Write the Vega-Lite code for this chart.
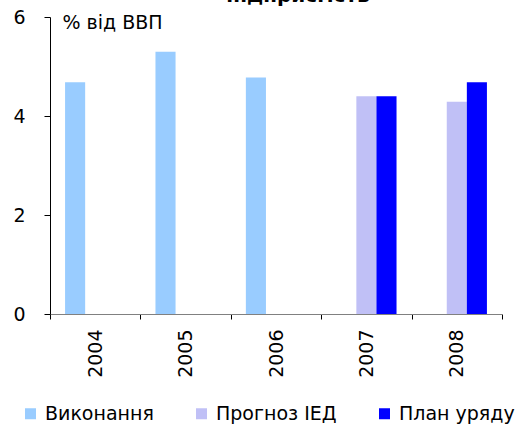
{
  "$schema": "https://vega.github.io/schema/vega-lite/v6.json",
  "width": 452,
  "height": 297,
  "autosize": {"type": "none"},
  "padding": {"left": 50, "top": 17, "right": 20, "bottom": 112},
  "background": "white",
  "config": {
    "view": {"stroke": null},
    "font": "DejaVu Sans",
    "axis": {"grid": false, "labelFont": "DejaVu Sans", "titleFont": "DejaVu Sans", "labelColor": "#000", "titleColor": "#000"},
    "legend": {"labelFont": "DejaVu Sans"}
  },
  "title": {
    "text": "підприємств",
    "font": "DejaVu Sans",
    "fontSize": 20,
    "fontWeight": "bold",
    "color": "#000",
    "frame": "group",
    "anchor": "middle",
    "baseline": "alphabetic",
    "offset": 0,
    "dx": 22,
    "dy": 14
  },
  "data": {
    "values": [
      {"year": "2004", "series": "Виконання", "value": 4.68},
      {"year": "2005", "series": "Виконання", "value": 5.3},
      {"year": "2006", "series": "Виконання", "value": 4.78},
      {"year": "2007", "series": "Прогноз ІЕД", "value": 4.4},
      {"year": "2007", "series": "План уряду", "value": 4.4},
      {"year": "2008", "series": "Прогноз ІЕД", "value": 4.29},
      {"year": "2008", "series": "План уряду", "value": 4.68}
    ]
  },
  "mark": {"type": "bar"},
  "encoding": {
    "x": {
      "field": "year",
      "type": "ordinal",
      "scale": {"paddingInner": 0, "paddingOuter": 0},
      "axis": {
        "title": null,
        "labelAngle": -90,
        "labelFontSize": 19,
        "labelPadding": 10,
        "tickSize": 5,
        "tickBand": "extent",
        "domainColor": "#808080",
        "tickColor": "#000"
      }
    },
    "xOffset": {
      "field": "series",
      "type": "nominal",
      "scale": {"domain": ["Виконання", "Прогноз ІЕД", "План уряду"], "paddingInner": 0, "paddingOuter": 0.75}
    },
    "y": {
      "field": "value",
      "type": "quantitative",
      "scale": {"domain": [0, 6], "nice": false},
      "axis": {
        "values": [0, 2, 4, 6],
        "title": "% від ВВП",
        "titleAngle": 0,
        "titleAlign": "left",
        "titleBaseline": "alphabetic",
        "titleX": 12,
        "titleY": 11,
        "titleFontSize": 19,
        "titleFontWeight": "normal",
        "labelFontSize": 19,
        "labelPadding": 19,
        "tickSize": 6,
        "domainColor": "#000",
        "tickColor": "#000"
      }
    },
    "color": {
      "field": "series",
      "type": "nominal",
      "scale": {"domain": ["Виконання", "Прогноз ІЕД", "План уряду"], "range": ["#99ccff", "#c0c0f6", "#0000ff"]},
      "legend": {
        "title": null,
        "orient": "none",
        "direction": "horizontal",
        "legendX": -29,
        "legendY": 387,
        "padding": 0,
        "symbolType": "square",
        "symbolSize": 121,
        "symbolStrokeWidth": 0,
        "labelFontSize": 19,
        "labelOffset": 5,
        "columnPadding": 38,
        "labelColor": "#000"
      }
    }
  }
}
